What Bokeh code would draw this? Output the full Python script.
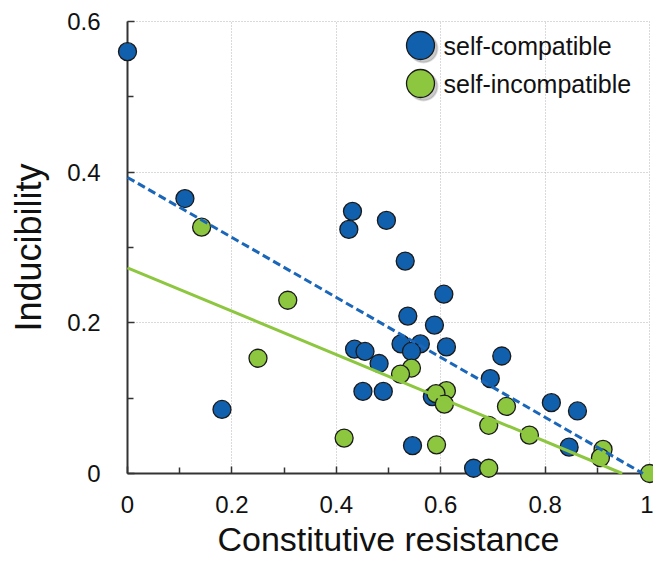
from bokeh.plotting import figure
from bokeh.models import FixedTicker, Legend, LegendItem, Range1d, ColumnDataSource, Label
from bokeh.embed import file_html
from bokeh.resources import INLINE

# self-compatible species
sc_x = [0.0, 0.110, 0.431, 0.424, 0.496, 0.532, 0.606, 0.537, 0.588, 0.435,
        0.455, 0.482, 0.524, 0.561, 0.544, 0.611, 0.717, 0.695, 0.451, 0.490,
        0.584, 0.181, 0.546, 0.663, 0.812, 0.862, 0.846]
sc_y = [0.560, 0.365, 0.348, 0.324, 0.336, 0.282, 0.238, 0.209, 0.197, 0.165,
        0.162, 0.146, 0.172, 0.172, 0.162, 0.168, 0.156, 0.126, 0.109, 0.109,
        0.102, 0.085, 0.037, 0.007, 0.094, 0.083, 0.035]

# self-incompatible species
si_x = [0.142, 0.307, 0.250, 0.415, 0.544, 0.523, 0.611, 0.591, 0.607, 0.592,
        0.692, 0.692, 0.726, 0.770, 0.911, 0.906, 1.0]
si_y = [0.327, 0.230, 0.153, 0.047, 0.140, 0.132, 0.110, 0.106, 0.092, 0.038,
        0.007, 0.064, 0.089, 0.051, 0.032, 0.021, 0.0]

# fitted regression lines (intercept, slope)
sc_fit = (0.393, -0.398)
si_fit = (0.273, -0.288)

series_labels = ["self-compatible", "self-incompatible"]

x_ticks = [0, 0.2, 0.4, 0.6, 0.8, 1.0]
x_tick_labels = ["0", "0.2", "0.4", "0.6", "0.8", "1"]
x_minor = [0.1, 0.3, 0.5, 0.7, 0.9]
y_ticks = [0, 0.2, 0.4, 0.6]
y_tick_labels = ["0", "0.2", "0.4", "0.6"]
y_minor = [0.1, 0.3, 0.5]

FONT = "Liberation Sans"
BLUE = "#1160AE"
GREEN = "#8DC63F"

p = figure(width=653, height=566, x_range=Range1d(0, 1), y_range=Range1d(0, 0.6),
           output_backend="svg", toolbar_location=None,
           min_border_left=127, min_border_right=4, min_border_top=21, min_border_bottom=93)

p.background_fill_color = "white"
p.border_fill_color = "white"
p.outline_line_color = "#b5b5b5"
p.outline_line_dash = "1 2"
p.outline_line_width = 1

for g in (p.xgrid, p.ygrid):
    g.grid_line_color = "#b5b5b5"
    g.grid_line_dash = "1 2"
    g.grid_line_width = 1

p.xaxis.ticker = FixedTicker(ticks=x_ticks, minor_ticks=x_minor)
p.yaxis.ticker = FixedTicker(ticks=y_ticks, minor_ticks=y_minor)
p.xaxis.major_label_overrides = {t: l for t, l in zip(x_ticks, x_tick_labels)}
p.yaxis.major_label_overrides = {t: l for t, l in zip(y_ticks, y_tick_labels)}

for ax in (p.xaxis, p.yaxis):
    ax.axis_line_color = "#333333"
    ax.axis_line_width = 2
    ax.major_tick_in = 7
    ax.major_tick_out = 0
    ax.minor_tick_in = 6
    ax.minor_tick_out = 0
    ax.major_tick_line_color = "#333333"
    ax.minor_tick_line_color = "#333333"
    ax.major_tick_line_width = 1.5
    ax.minor_tick_line_width = 1.5
    ax.major_label_text_font = FONT
    ax.major_label_text_font_size = "24px"
    ax.major_label_text_color = "#111111"
    ax.axis_label_text_font = FONT
    ax.axis_label_text_font_style = "normal"
    ax.axis_label_text_color = "#111111"

p.xaxis.axis_label_text_font_size = "34px"
p.yaxis.axis_label_text_font_size = "36px"
p.xaxis.axis_label = "Constitutive resistance"
p.yaxis.axis_label = "Inducibility"
p.xaxis.major_label_standoff = 22
p.yaxis.major_label_standoff = 27
p.xaxis.axis_label_standoff = 4
p.yaxis.axis_label_standoff = 15

src_sc = ColumnDataSource(dict(x=sc_x, y=sc_y))
src_si = ColumnDataSource(dict(x=si_x, y=si_y))

r_sc = p.scatter("x", "y", source=src_sc, size=18, fill_color=BLUE,
                 line_color="#1a1a1a", line_width=1.3, level="overlay")
r_si = p.scatter("x", "y", source=src_si, size=18, fill_color=GREEN,
                 line_color="#1a1a1a", line_width=1.3, level="overlay")

def fit_line(fit):
    a, b = fit
    x_end = -a / b
    return [0.0, x_end], [a, a + b * x_end]

lx, ly = fit_line(sc_fit)
p.line(lx, ly, line_color="#1A66B8", line_width=3, line_dash="8 4", level="overlay")
lx, ly = fit_line(si_fit)
p.line(lx, ly, line_color=GREEN, line_width=3, level="overlay")

# legend: shadow glyphs, marker glyphs, and text labels
nan = float("nan")
r_shadow = p.scatter(x=[nan], y=[nan], size=18, fill_color="#6a6a6a", fill_alpha=0.35,
                     line_color="#6a6a6a", line_alpha=0.2, line_width=2)

def add_legend_glyph(renderer, loc):
    lg = Legend(items=[LegendItem(label=" ", renderers=[renderer], index=0)],
                location=loc, glyph_width=70, glyph_height=70,
                label_standoff=0, padding=0, margin=0, spacing=0,
                background_fill_alpha=0, border_line_alpha=0,
                label_text_font_size="1px")
    p.add_layout(lg)

add_legend_glyph(r_shadow, (261, 390))
add_legend_glyph(r_shadow, (261, 352))
add_legend_glyph(r_sc, (258, 393))
add_legend_glyph(r_si, (258, 355))

for lab, yy in zip(series_labels, (428, 390)):
    p.add_layout(Label(x=316, y=yy, x_units="screen", y_units="screen", text=lab,
                       text_font=FONT, text_font_size="25px", text_color="#111111",
                       text_baseline="middle", text_align="left"))

open("out.html", "w").write(file_html(p, INLINE))
